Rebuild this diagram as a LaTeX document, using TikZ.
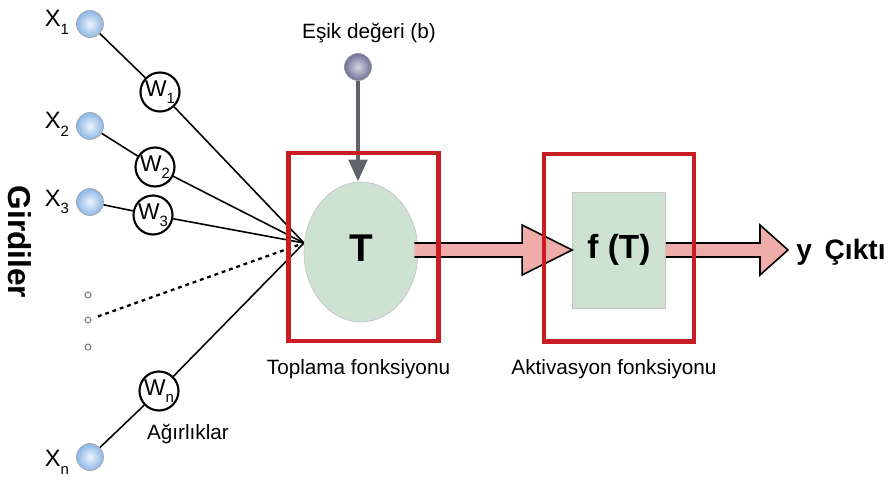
\documentclass[tikz,border=0pt]{standalone}
\usepackage{fontspec}
\setmainfont{Liberation Sans}
\usetikzlibrary{shapes.geometric,arrows.meta,positioning,calc}
\definecolor{redbox}{RGB}{200,30,35}
\definecolor{inblue}{RGB}{140,182,230}
\definecolor{biasgray}{RGB}{110,115,150}
\definecolor{sumgreen}{RGB}{206,226,210}
\definecolor{arrpink}{RGB}{240,172,168}
\definecolor{biasarr}{RGB}{95,98,105}
\newcommand{\subidx}[1]{\raisebox{-0.6ex}{\fontsize{8.5}{8.5}\selectfont #1}}

\begin{document}
\begin{tikzpicture}[
      x=0.02cm,y=-0.02cm,
      inp/.style={circle,draw=gray!70,shading=radial,inner color=white!85!inblue,
                  outer color=inblue,minimum size=0.54cm,inner sep=0pt},
      wgt/.style={circle,draw,line width=1.2pt,fill=white,
                  minimum size=0.78cm,inner sep=0pt,font=\fontsize{13}{13}\selectfont},
      dot/.style={circle,draw=gray,line width=0.6pt,minimum size=0.12cm,inner sep=0pt},
      lbl/.style={font=\fontsize{11.8}{13}\selectfont},
      xlbl/.style={font=\fontsize{13.5}{13.5}\selectfont,inner sep=1pt},
      frame/.style={rectangle,draw=redbox,line width=2.3pt,
                    minimum width=3.0cm,minimum height=3.76cm},
      fat/.style={draw=black,fill=arrpink,line width=0.9pt,line join=miter},
      big/.style={font=\bfseries\fontsize{16}{16}\selectfont,inner sep=0pt}
    ]
      \useasboundingbox (0,0) rectangle (894,484);

      % inputs
      \node[inp] (x1) at (90,24) {};
      \node[inp] (x2) at (90,126) {};
      \node[inp] (x3) at (90,202) {};
      \node[inp] (xn) at (90,457) {};
      \node[xlbl,left=0.1cm of x1,yshift=1pt] {X\subidx{1}};
      \node[xlbl,left=0.1cm of x2,yshift=1pt] {X\subidx{2}};
      \node[xlbl,left=0.1cm of x3,yshift=0pt] {X\subidx{3}};
      \node[xlbl,left=0.1cm of xn,yshift=-3pt] {X\subidx{n}};
      \node[dot] (d1) at (88,295) {};
      \node[dot] (d2) at (88,320) {};
      \node[dot] (d3) at (88,347) {};
      \node[rotate=-90,font=\bfseries\fontsize{18}{18}\selectfont] (girdi) at (20,242) {Girdiler};

      % weights
      \node[wgt] (w1) at (160,92) {W\subidx{1}};
      \node[wgt] (w2) at (155,167) {W\subidx{2}};
      \node[wgt] (w3) at (153,215) {W\subidx{3}};
      \node[wgt] (wn) at (159,391) {W\subidx{n}};
      \node[lbl,below=0.12cm of wn,xshift=0.58cm] (agir) {Ağırlıklar};
      \coordinate (conv) at (304,243);

      \draw[line width=0.9pt] (x1) -- (w1) -- (conv);
      \draw[line width=0.9pt] (x2) -- (w2) -- (conv);
      \draw[line width=0.9pt] (x3) -- (w3) -- (conv);
      \draw[line width=0.9pt] (xn) -- (wn) -- (conv);
      \draw[line width=1.3pt,dash pattern=on 2.2pt off 2.2pt,shorten <=4pt] (d2) -- (conv);

      % summation and activation
      \node[ellipse,draw=gray!45,fill=sumgreen,minimum width=2.28cm,minimum height=2.8cm] (sum) at (361,252) {};
      \node[rectangle,draw=gray!45,fill=sumgreen,minimum width=1.86cm,minimum height=2.32cm,
            font=\bfseries\fontsize{19}{19}\selectfont] (act) at (619,250) {f (T)};

      % bias
      \node[circle,draw=gray!80,shading=radial,inner color=white!70!biasgray,
            outer color=biasgray,minimum size=0.54cm,inner sep=0pt] (bias) at (358,67) {};
      \node[lbl] (biaslbl) at (369,33) {Eşik değeri (b)};
      \draw[biasarr,line width=2.8pt,-{Triangle[length=0.44cm,width=0.36cm]}]
            (bias) -- (bias |- sum.north);

      % thick arrows
      \coordinate (yout) at (788,250);
      \filldraw[fat] ($(sum.east |- act.west)+(-4,7)$) -- ($(act.west)+(-50,7)$)
            -- ($(act.west)+(-50,25)$) -- (act.west) -- ($(act.west)+(-50,-25)$)
            -- ($(act.west)+(-50,-7)$) -- ($(sum.east |- act.west)+(-4,-7)$);
      \node[ellipse,fill=sumgreen,minimum width=1.6cm,minimum height=2.6cm] at (sum) {};
      \node[font=\bfseries\fontsize{22}{22}\selectfont] (tsym) at ($(sum)+(0,-4)$) {T};
      \filldraw[fat] (act.east) ++(0,7) -- ($(yout)+(-28,7)$)
            -- ($(yout)+(-28,25)$) -- (yout) -- ($(yout)+(-28,-25)$)
            -- ($(yout)+(-28,-7)$) -- ($(act.east)+(0,-7)$);

      % frames
      \node[frame] (box1) at (363.5,247) {};
      \node[frame] (box2) at (619,247.5) {};
      \node[lbl,below=0.2cm of box1,xshift=-0.1cm] (toplam) {Toplama fonksiyonu};
      \node[lbl,below=0.2cm of box2,xshift=-0.1cm] (aktiv) {Aktivasyon fonksiyonu};

      % output
      \node[big,anchor=base west] (y) at ($(yout)+(8,9)$) {y};
      \node[big,anchor=base west] (cikti) at ($(y.base east)+(12,0)$) {Çıktı};
    \end{tikzpicture}
\end{document}
